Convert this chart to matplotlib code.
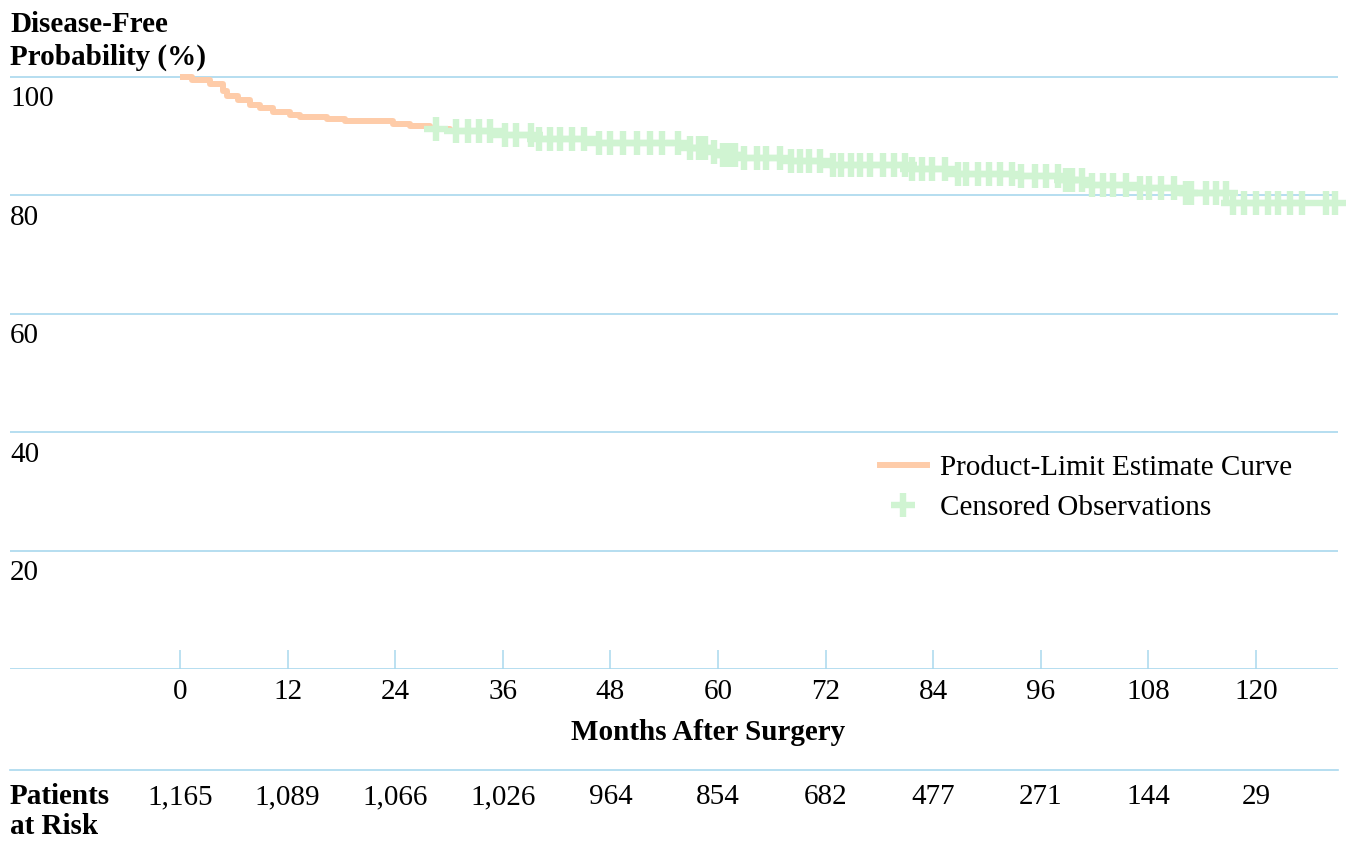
import numpy as np
import matplotlib.pyplot as plt
from matplotlib.lines import Line2D
from matplotlib.transforms import blended_transform_factory

plt.rcParams['font.family'] = ['Liberation Serif', 'DejaVu Serif']

# Kaplan-Meier steps (months, disease-free %)
EVENT_MONTHS = [0, 1.3, 3.3, 4.8, 5.2, 6.5, 7.8, 8.9, 10.4, 12.3, 13.4, 16.4, 18.4,
                23.7, 25.6, 27.9, 30.1, 35.3, 39.4, 45.7, 56.5, 58.7, 60.5, 62.4,
                67.6, 72.8, 81.0, 86.2, 93.5, 98.4, 101.1, 106.3, 111.8, 117.4]
SURVIVAL = [100, 99.5, 98.8, 97.6, 96.8, 96.1, 95.3, 94.8, 94.1, 93.6, 93.2, 92.9, 92.6,
            92.1, 91.7, 91.3, 90.8, 90.2, 89.6, 88.8, 88.0, 87.4, 86.9, 86.4,
            85.8, 85.1, 84.5, 83.6, 83.2, 82.6, 81.8, 81.3, 80.4, 78.7]
FOLLOWUP_END = 129

# censored observation times (months)
CENSORED = [28.6, 30.8, 32.1, 33.4, 34.6, 36.2, 37.5, 39.2, 40.0, 41.3, 42.4, 43.7,
            45.0, 46.7, 47.9, 49.4, 51.0, 52.4, 53.8, 55.5, 56.9, 57.9, 58.6, 59.6,
            60.6, 61.2, 61.9, 62.9, 64.3, 65.3, 66.9, 68.1, 69.1, 70.2, 71.4, 72.8,
            73.7, 74.8, 75.8, 76.9, 78.4, 79.6, 80.8, 81.6, 82.8, 83.9, 85.3, 86.8,
            87.7, 89.0, 90.2, 91.5, 92.8, 93.8, 95.3, 96.6, 97.9, 98.8, 99.5, 100.6,
            101.7, 102.9, 104.0, 105.5, 107.1, 108.1, 109.4, 110.9, 112.2, 112.7,
            114.4, 115.5, 116.7, 117.4, 118.7, 120.0, 121.3, 122.5, 123.8, 125.1,
            127.8, 128.8]

X_TICKS = [0, 12, 24, 36, 48, 60, 72, 84, 96, 108, 120]
AT_RISK = ['1,165', '1,089', '1,066', '1,026', '964', '854', '682', '477', '271', '144', '29']
Y_TICKS = [0, 20, 40, 60, 80, 100]

ORANGE = '#fecca9'
GREEN = '#d0f4d2'
GRID = '#a9d8ee'
FS = 21

W, H = 1346, 841
fig = plt.figure(figsize=(W / 100, H / 100), dpi=100)

# axes: x from px 10 to 1338, y: 0 at px 669, 100 at px 77
px_per_month = (1256 - 180) / 120
x0 = -(180 - 10) / px_per_month
x1 = (1338 - 180) / px_per_month
top_px = 60
ax = fig.add_axes([10 / W, 1 - 669 / H, (1338 - 10) / W, (669 - top_px) / H])
ax.set_xlim(x0, x1)
ax.set_ylim(0, 100 * (669 - top_px) / (669 - 77))

for s in ax.spines.values():
    s.set_visible(False)

for v in Y_TICKS:
    ax.axhline(v, color=GRID, lw=1.2, zorder=0)
ax.set_yticks([])

ax.set_xticks(X_TICKS)
ax.set_xticklabels([str(t) for t in X_TICKS], fontsize=FS)
ax.tick_params(axis='x', direction='in', length=14, width=1.1, color=GRID, pad=7)

# y labels sit just under each gridline
ytrans = blended_transform_factory(ax.transAxes, ax.transData)
for v in Y_TICKS[1:]:
    ax.text(0, v - 1.6, str(v), transform=ytrans, ha='left', va='top', fontsize=FS)

# product-limit curve
xs = EVENT_MONTHS + [FOLLOWUP_END]
ys = SURVIVAL + [SURVIVAL[-1]]
ax.step(xs, ys, where='post', color=ORANGE, lw=4.3, solid_capstyle='butt',
        clip_on=False, zorder=2)

# censored marks on the curve
ev = np.array(EVENT_MONTHS)
cens = np.array(CENSORED)
idx = np.searchsorted(ev, cens, side='right') - 1
cy = np.array(SURVIVAL)[idx]
ax.plot(cens, cy, ls='none', marker='+', ms=17, mew=4.6, color=GREEN,
        clip_on=False, zorder=3)

# legend
handles = [Line2D([], [], color=ORANGE, lw=4.3),
           Line2D([], [], ls='none', marker='+', ms=17, mew=4.6, color=GREEN)]
fig.legend(handles, ['Product-Limit Estimate Curve', 'Censored Observations'],
           loc='center left', bbox_to_anchor=(880 / W, 1 - 488 / H), frameon=False,
           fontsize=FS, handlelength=1.6, handletextpad=0.45, labelspacing=0.45,
           borderpad=0, borderaxespad=0)

# titles
fig.text(10 / W, 1 - 24 / H, 'Disease-Free', fontsize=FS, fontweight='bold', va='center')
fig.text(10 / W, 1 - 57 / H, 'Probability (%)', fontsize=FS, fontweight='bold', va='center')
fig.text(708 / W, 1 - 732 / H, 'Months After Surgery', fontsize=FS, fontweight='bold',
         ha='center', va='center')

# patients at risk table
fig.add_artist(Line2D([10 / W, 1338 / W], [1 - 770 / H] * 2, color=GRID, lw=1.2))
fig.text(10 / W, 1 - 797 / H, 'Patients', fontsize=FS, fontweight='bold', va='center')
fig.text(10 / W, 1 - 827 / H, 'at Risk', fontsize=FS, fontweight='bold', va='center')
rtrans = blended_transform_factory(ax.transData, fig.transFigure)
for t, n in zip(X_TICKS, AT_RISK):
    ax.text(t, 1 - 797 / H, n, transform=rtrans, ha='center', va='center', fontsize=FS)

fig.savefig('out.png', dpi=100)
